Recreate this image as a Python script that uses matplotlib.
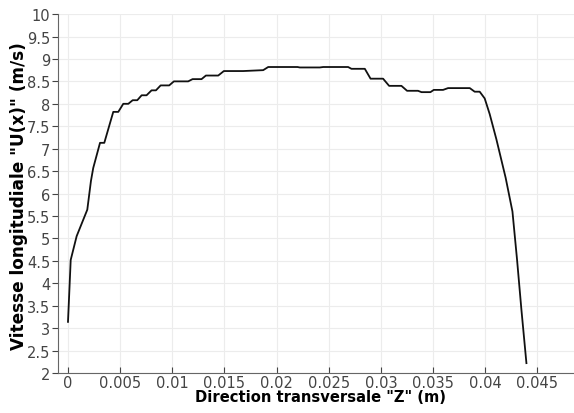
import numpy as np
import matplotlib.pyplot as plt

# transverse position (m) and longitudinal velocity (m/s)
z = [0.0, 0.00026, 0.00083, 0.00185, 0.0022, 0.00242, 0.00307, 0.00348,
     0.00434, 0.00482, 0.0053, 0.00578, 0.0062, 0.00664, 0.00706, 0.00753,
     0.00801, 0.00843, 0.00888, 0.0097, 0.01015, 0.01152, 0.01194, 0.0128,
     0.01322, 0.0144, 0.01494, 0.01679, 0.01871, 0.01919, 0.0220, 0.02222,
     0.02414, 0.02446, 0.02685, 0.02717, 0.02845, 0.0290, 0.0302, 0.03078,
     0.03196, 0.0325, 0.03355, 0.03388, 0.03474, 0.03506, 0.03595, 0.03643,
     0.03851, 0.03898, 0.03946, 0.03994, 0.04042, 0.04106, 0.04195, 0.0426,
     0.04304, 0.04346, 0.04394]
u = [3.14, 4.52, 5.05, 5.64, 6.28, 6.57, 7.13, 7.13,
     7.82, 7.82, 8.00, 8.00, 8.08, 8.08, 8.19, 8.19,
     8.30, 8.30, 8.41, 8.41, 8.50, 8.50, 8.55, 8.55,
     8.63, 8.63, 8.73, 8.73, 8.75, 8.82, 8.82, 8.81,
     8.81, 8.82, 8.82, 8.78, 8.78, 8.56, 8.56, 8.40,
     8.40, 8.29, 8.29, 8.26, 8.26, 8.31, 8.31, 8.35,
     8.35, 8.27, 8.27, 8.12, 7.77, 7.21, 6.35, 5.60,
     4.53, 3.41, 2.22]

x_ticks = [0, 0.005, 0.01, 0.015, 0.02, 0.025, 0.03, 0.035, 0.04, 0.045]
x_labels = ["0", "0.005", "0.01", "0.015", "0.02", "0.025", "0.03", "0.035", "0.04", "0.045"]
y_ticks = [2, 2.5, 3, 3.5, 4, 4.5, 5, 5.5, 6, 6.5, 7, 7.5, 8, 8.5, 9, 9.5, 10]

plt.rcParams["font.family"] = ["DejaVu Sans"]

fig = plt.figure(figsize=(5.74, 4.14), dpi=100)
ax = fig.add_axes([0.101, 0.0966, 0.899, 0.867])

ax.plot(z, u, color="#111111", linewidth=1.3)

ax.set_xlim(-0.00096, 0.0485)
ax.set_ylim(2, 10)
ax.set_xticks(x_ticks)
ax.set_xticklabels(x_labels)
ax.set_yticks(y_ticks)
ax.set_yticklabels([f"{t:g}" for t in y_ticks])
ax.tick_params(labelsize=10.5, colors="#444444", width=0.8)
ax.tick_params(axis="x", direction="in", length=4, pad=1.5)
ax.tick_params(axis="y", direction="out", length=4, pad=1.5)

ax.grid(True, color="#ececec", linewidth=0.8)
ax.set_axisbelow(True)
for side in ["top", "right"]:
    ax.spines[side].set_visible(False)
for side in ["left", "bottom"]:
    ax.spines[side].set_color("#666666")
    ax.spines[side].set_linewidth(0.8)

ax.set_xlabel('Direction transversale "Z" (m)', fontsize=10.6, fontweight="bold",
              ha="center", va="center")
ax.set_ylabel('Vitesse longitudiale "U(x)" (m/s)', fontsize=12.2, fontweight="bold",
              ha="center", va="center")
ax.xaxis.set_label_coords(0.5097, -0.065)
ax.yaxis.set_label_coords(-0.0755, 0.496)

fig.savefig("out.png", dpi=100)
